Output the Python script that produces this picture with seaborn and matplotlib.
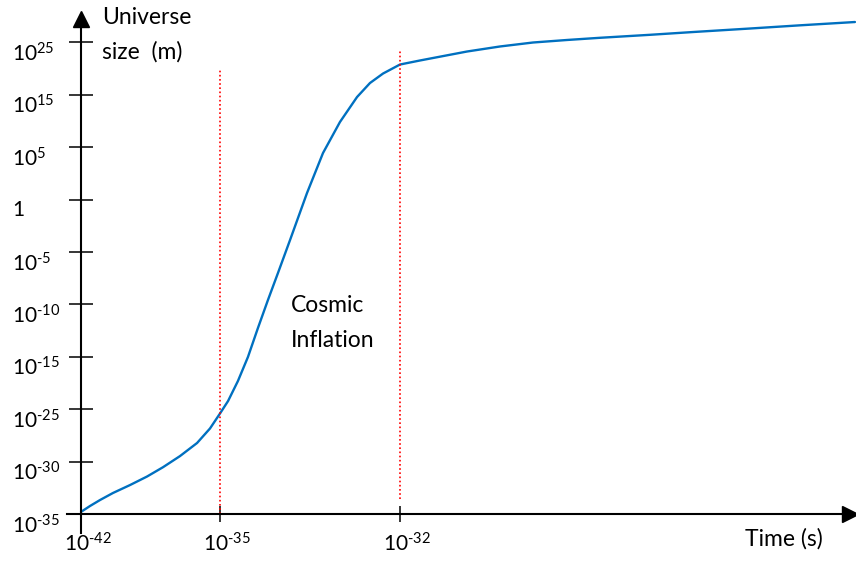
import matplotlib
matplotlib.use('Agg')
import matplotlib.pyplot as plt
from matplotlib.transforms import ScaledTranslation
import seaborn as sns
import pandas as pd

sns.set_theme(style='white')
plt.rcParams['font.family'] = ['Lato', 'DejaVu Sans']
plt.rcParams['mathtext.fontset'] = 'custom'
plt.rcParams['mathtext.rm'] = 'Lato'
plt.rcParams['mathtext.it'] = 'Lato:italic'
plt.rcParams['mathtext.bf'] = 'Lato:bold'

H = '\u2010'  # short hyphen for exponents
# ---- data (positions along the schematic, non-linear axes) ----
y_tick_labels = [f'$10^{{{H}35}}$', f'$10^{{{H}30}}$', f'$10^{{{H}25}}$', f'$10^{{{H}15}}$',
                 f'$10^{{{H}10}}$', f'$10^{{{H}5}}$', '1', '$10^{5}$', '$10^{15}$', '$10^{25}$']
x_tick_labels = [f'$10^{{{H}42}}$', f'$10^{{{H}35}}$', f'$10^{{{H}32}}$']
x_tick_pos = [0.0, 1.0, 2.295]

time_pos = [0.0, 0.065, 0.137, 0.230, 0.353, 0.475, 0.590, 0.712, 0.835, 0.928,
            1.000, 1.058, 1.129, 1.201, 1.273, 1.345, 1.417, 1.504, 1.626, 1.741,
            1.863, 1.986, 2.079, 2.173, 2.295, 2.439, 2.777, 3.014, 3.252,
            3.496, 3.734, 4.094, 4.403, 4.813, 5.173, 5.568]
size_pos = [0.04, 0.153, 0.267, 0.401, 0.553, 0.715, 0.893, 1.105, 1.355, 1.632,
            1.918, 2.156, 2.538, 2.996, 3.550, 4.084, 4.599, 5.229, 6.126, 6.889,
            7.481, 7.958, 8.225, 8.406, 8.578, 8.655, 8.826, 8.922, 8.998,
            9.046, 9.088, 9.145, 9.198, 9.265, 9.326, 9.389]

inflation_start, inflation_end = 1.0, 2.295

df = pd.DataFrame({'time': time_pos, 'size': size_pos})

fig = plt.figure(figsize=(8.56, 5.61), dpi=100)
ax = fig.add_axes([0, 0, 1, 1])
ax.set_xlim(-81 / 139, 775 / 139)
ax.set_ylim(-47 / 52.4, 514 / 52.4)
ax.patch.set_alpha(0)

sns.lineplot(data=df, x='time', y='size', ax=ax, sort=False, estimator=None,
             color='#0070C0', linewidth=1.7)
ax.lines[-1].set_solid_joinstyle('round')

ax.vlines(inflation_start, 0, 8.47, colors='red', linestyles=(0, (1, 1.5)), linewidth=1.2)
ax.vlines(inflation_end, 0.29, 8.85, colors='red', linestyles=(0, (1, 1.5)), linewidth=1.2)

# axes as arrows
for s in ['top', 'right']:
    ax.spines[s].set_visible(False)
ax.spines['left'].set_position(('data', 0))
ax.spines['bottom'].set_position(('data', 0))
ax.spines['left'].set_bounds(-0.36, 9.45)
ax.spines['bottom'].set_bounds(-0.10, 5.53)
for s in ['left', 'bottom']:
    ax.spines[s].set_color('black')
    ax.spines[s].set_linewidth(1.5)
ax.plot([0], [9.45], marker='^', color='black', markersize=11, clip_on=False)
ax.plot([5.53], [0], marker='>', color='black', markersize=11, clip_on=False)

ax.set_yticks(range(len(y_tick_labels)), y_tick_labels)
ax.set_xticks(x_tick_pos, x_tick_labels)
ax.tick_params(axis='y', direction='inout', length=17, width=1.1, color='black',
               pad=41, labelsize=15, labelcolor='black', left=True)
ax.tick_params(axis='x', direction='inout', length=12, width=1.1, color='black',
               pad=7.5, labelsize=15, labelcolor='black', bottom=True)
for lab in ax.get_yticklabels():
    lab.set_ha('left')
    lab.set_va('top')
off = ScaledTranslation(7 / 100, 0, fig.dpi_scale_trans)
for lab in ax.get_xticklabels():
    lab.set_transform(lab.get_transform() + off)
ax.set_xlabel('')
ax.set_ylabel('')
ax.grid(False)

txt = dict(fontsize=16.5, color='black', ha='left', va='center')
ax.text(0.151, 9.47, 'Universe', **txt)
ax.text(0.151, 8.82, 'size  (m)', **txt)
ax.text(1.511, 3.97, 'Cosmic', **txt)
ax.text(1.511, 3.32, 'Inflation', **txt)
ax.text(4.777, -0.477, 'Time (s)', **txt)

fig.savefig('out.png', dpi=100)
